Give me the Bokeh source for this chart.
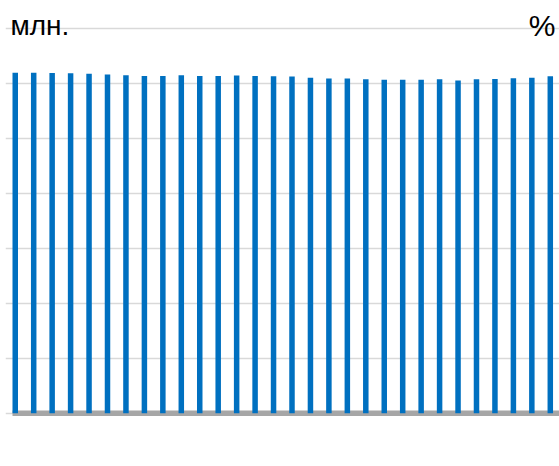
from bokeh.plotting import figure
from bokeh.models import Range1d, FixedTicker, Label, ColumnDataSource
from bokeh.embed import file_html
from bokeh.resources import INLINE

# data (values in units where one gridline step = 10)
values = [61.9, 61.9, 61.85, 61.8, 61.7, 61.6, 61.45, 61.3, 61.3, 61.45,
          61.3, 61.3, 61.4, 61.3, 61.25, 61.2, 61.0, 60.85, 60.85, 60.7,
          60.65, 60.65, 60.65, 60.7, 60.5, 60.7, 60.75, 60.9, 61.0, 61.25]
positions = list(range(len(values)))
grid_ticks = [0, 10, 20, 30, 40, 50, 60, 70]
left_label = "млн."
right_label = "%"

W, H = 559, 466
p = figure(width=W, height=H, output_backend="svg", toolbar_location=None,
           min_border=0, min_border_left=5, min_border_right=0,
           min_border_top=0, min_border_bottom=0,
           x_range=Range1d(-0.5285, 29.499), y_range=Range1d(-9.69, 75.04))
p.outline_line_color = None
p.background_fill_color = "white"
p.border_fill_color = "white"
p.xaxis.visible = False
p.yaxis.visible = False
p.xgrid.visible = False
p.ygrid.ticker = FixedTicker(ticks=grid_ticks)
p.ygrid.grid_line_color = "#d9d9d9"
p.ygrid.grid_line_width = 1.5

bar_w = 0.298
# baseline (category axis line)
p.segment(x0=[positions[0] - bar_w / 2], y0=[0], x1=[29.6], y1=[0],
          line_color="#a6a6a6", line_width=5.5, line_cap="butt")

src = ColumnDataSource(dict(x=positions, top=values))
p.vbar(x="x", top="top", bottom=0, width=bar_w, source=src,
       fill_color="#0070c0", line_color=None)

p.add_layout(Label(x=-0.2575, y=70.5, text=left_label, text_font="Liberation Sans",
                   text_font_size="28px", text_color="#000000",
                   text_align="left", text_baseline="alphabetic"))
p.add_layout(Label(x=29.28, y=70.5, text=right_label, text_font="Liberation Sans",
                   text_font_size="30px", text_color="#000000",
                   text_align="right", text_baseline="alphabetic"))

open("out.html", "w").write(file_html(p, INLINE))
